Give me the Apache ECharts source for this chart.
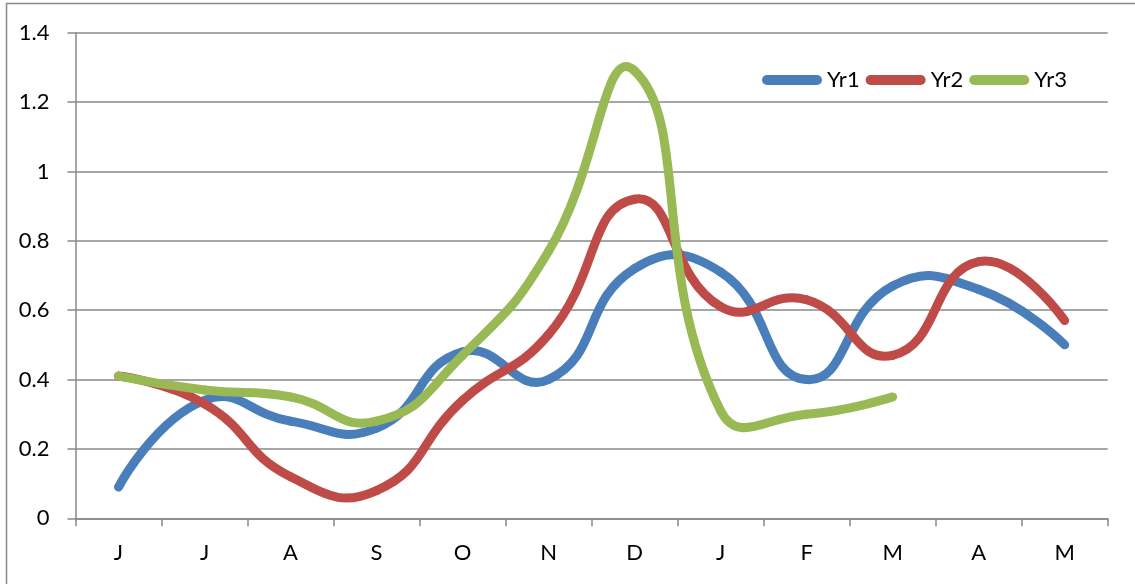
<!DOCTYPE html>
<html>
<head>
<meta charset="utf-8">
<script src="https://cdn.jsdelivr.net/npm/echarts@6/dist/echarts.min.js"></script>
<style>
  html, body { margin: 0; padding: 0; background: #fff; }
  #main { width: 1135px; height: 584px; }
</style>
</head>
<body>
<div id="main"></div>
<script>
  var months = ['J', 'J', 'A', 'S', 'O', 'N', 'D', 'J', 'F', 'M', 'A', 'M'];
  var yr1 = [0.09, 0.34, 0.28, 0.26, 0.48, 0.40, 0.72, 0.71, 0.40, 0.67, 0.66, 0.50];
  var yr2 = [0.41, 0.33, 0.12, 0.08, 0.34, 0.53, 0.92, 0.61, 0.63, 0.47, 0.74, 0.57];
  var yr3 = [0.41, 0.37, 0.35, 0.28, 0.47, 0.77, 1.29, 0.31, 0.30, 0.35, null, null];
  var yTicks = [0, 0.2, 0.4, 0.6, 0.8, 1, 1.2, 1.4];

  var font = 'Lato, "Open Sans", sans-serif';
  var grey = '#898989';
  var SMOOTH = 0.5;

  var myChart = echarts.init(document.getElementById('main'));

  // pixel point of value i, via the chart's own axes
  var pt = function(api, arr, i) {
    if (i < 0 || i >= arr.length || arr[i] == null) return null;
    return api.coord([i, arr[i]]);
  };

  // incoming / outgoing control points, excel-like smoothing (overshoot allowed)
  var ctrl = function(api, arr, i) {
    var p = pt(api, arr, i), a = pt(api, arr, i - 1), b = pt(api, arr, i + 1);
    if (!a || !b) return [p, p];
    var vx = b[0] - a[0], vy = b[1] - a[1];
    var lp = Math.hypot(p[0] - a[0], p[1] - a[1]);
    var ln = Math.hypot(b[0] - p[0], b[1] - p[1]);
    var r = ln / (lp + ln);
    return [
      [p[0] - vx * SMOOTH * (1 - r), p[1] - vy * SMOOTH * (1 - r)],
      [p[0] + vx * SMOOTH * r, p[1] + vy * SMOOTH * r]
    ];
  };

  var mkSerie = function(name, arr, color) {
    return {
      name: name,
      type: 'custom',
      coordinateSystem: 'cartesian2d',
      itemStyle: { color: color },
      data: arr.map(function(v, i) { return [i, v == null ? '-' : v]; }),
      encode: { x: 0, y: 1 },
      renderItem: function(params, api) {
        var i = params.dataIndex;
        if (arr[i] == null || arr[i + 1] == null) return null;
        var p0 = pt(api, arr, i), p1 = pt(api, arr, i + 1);
        var c0 = ctrl(api, arr, i)[1], c1 = ctrl(api, arr, i + 1)[0];
        return {
          type: 'bezierCurve',
          shape: {
            x1: p0[0], y1: p0[1], x2: p1[0], y2: p1[1],
            cpx1: c0[0], cpy1: c0[1], cpx2: c1[0], cpy2: c1[1]
          },
          style: { stroke: color, fill: 'none', lineWidth: 9, lineCap: 'round' }
        };
      },
      emphasis: { disabled: true }
    };
  };

  var option = {
    animation: false,
    textStyle: { fontFamily: font },
    graphic: [{
      type: 'rect',
      silent: true,
      z: -1,
      shape: { x: 6.5, y: 3.5, width: 1400, height: 800 },
      style: { fill: 'none', stroke: grey, lineWidth: 1.5 }
    }],
    legend: {
      left: 757,
      top: 63,
      itemWidth: 60,
      itemHeight: 10,
      itemGap: 6,
      icon: 'path://M5,0 H55 A5,5 0 0 1 55,10 H5 A5,5 0 0 1 5,0 Z',
      textStyle: { fontFamily: font, fontSize: 22, color: '#000', lineHeight: 24 },
      data: ['Yr1', 'Yr2', 'Yr3']
    },
    grid: {
      left: 75.5,
      right: 27.3,
      top: 32.7,
      bottom: 65.7,
      containLabel: false
    },
    xAxis: {
      type: 'category',
      data: months,
      boundaryGap: true,
      axisLine: { lineStyle: { color: grey, width: 1.5 } },
      axisTick: { show: true, interval: 0, length: 8, lineStyle: { color: grey, width: 1.5 } },
      axisLabel: { interval: 0, margin: 24, fontSize: 22, color: '#000', fontFamily: font },
      splitLine: { show: false }
    },
    yAxis: {
      type: 'value',
      min: yTicks[0],
      max: yTicks[yTicks.length - 1],
      interval: 0.2,
      axisLine: { show: true, lineStyle: { color: grey, width: 1.5 } },
      axisTick: { show: true, length: 8, lineStyle: { color: grey, width: 1.5 } },
      axisLabel: {
        margin: 26,
        fontSize: 22,
        color: '#000',
        fontFamily: font,
        formatter: function(v) { return String(+v.toFixed(1)); }
      },
      splitLine: { show: true, lineStyle: { color: grey, width: 1.5 } }
    },
    series: [
      mkSerie('Yr1', yr1, '#4A7EBB'),
      mkSerie('Yr2', yr2, '#BE4B48'),
      mkSerie('Yr3', yr3, '#98B954')
    ]
  };

  myChart.setOption(option);
</script>
</body>
</html>
